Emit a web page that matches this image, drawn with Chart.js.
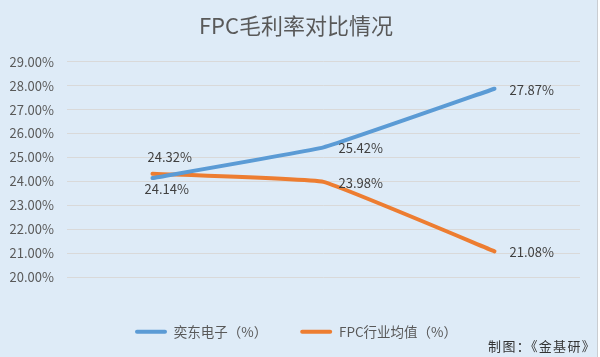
<!DOCTYPE html>
<html><head><meta charset="utf-8">
<script src="https://cdn.jsdelivr.net/npm/chart.js@4"></script>
<style>
html,body{margin:0;padding:0;background:#fff;}
#wrap{width:597px;height:357px;border-right:1px solid #c9cdd2;}
canvas{display:block;}
</style></head><body>
<div id="wrap"><canvas id="c" width="597" height="357"></canvas></div>
<script>
const categories = ['2018年', '2019年', '2020年'];
const seriesNames = ['奕东电子（%）', 'FPC行业均值（%）'];
const yidongValues = [24.14, 25.42, 27.87];
const industryValues = [24.32, 23.98, 21.08];
const yMin = 20, yMax = 29, yStep = 1;
const titleText = 'FPC毛利率对比情况';
const sourceText = '制图：《金基研》';

const FONT = "'Noto Sans CJK SC', 'Noto Sans', sans-serif";
const BG = '#deebf7';

// label placement per dataset/point (offsets from the point, text left-aligned)
const labelPlacement = [
  [{dx: -8, dy: 11}, {dx: 15, dy: 1}, {dx: 15, dy: 1}],
  [{dx: -5, dy: -17}, {dx: 15, dy: 1}, {dx: 15, dy: 1}]
];

const bgPlugin = {
  id: 'bg',
  beforeDraw(chart) {
    const ctx = chart.ctx;
    ctx.save();
    ctx.fillStyle = BG;
    ctx.fillRect(0, 0, chart.width, chart.height);
    ctx.restore();
  }
};

// nudge title and legend so they are centred like the reference
const centerShift = {
  id: 'centerShift',
  afterLayout(chart) {
    const s = 12;
    if (chart.titleBlock) { chart.titleBlock.left += s; }
    if (chart.legend) { chart.legend.left += s; }
  }
};

const labelPlugin = {
  id: 'valLabels',
  afterDatasetsDraw(chart) {
    const ctx = chart.ctx;
    ctx.save();
    ctx.font = '13px ' + FONT;
    ctx.fillStyle = '#404040';
    ctx.textAlign = 'left';
    ctx.textBaseline = 'middle';
    chart.data.datasets.forEach((ds, di) => {
      const meta = chart.getDatasetMeta(di);
      meta.data.forEach((pt, i) => {
        const p = labelPlacement[di][i];
        ctx.fillText(ds.data[i].toFixed(2) + '%', pt.x + p.dx, pt.y + p.dy);
      });
    });
    ctx.restore();
  }
};

const footerPlugin = {
  id: 'footer',
  afterDraw(chart) {
    const ctx = chart.ctx;
    ctx.save();
    ctx.font = '13px ' + FONT;
    try { ctx.letterSpacing = '1.3px'; } catch (e) {}
    ctx.fillStyle = '#333333';
    ctx.textAlign = 'right';
    ctx.textBaseline = 'middle';
    ctx.fillText(sourceText, 596, 346);
    ctx.restore();
  }
};

new Chart(document.getElementById('c'), {
  type: 'line',
  data: {
    labels: categories,
    datasets: [
      {label: seriesNames[0], data: yidongValues, borderColor: '#5b9bd5', backgroundColor: '#5b9bd5',
       borderWidth: 4, pointRadius: 0, tension: 0.08, borderCapStyle: 'round', borderJoinStyle: 'round'},
      {label: seriesNames[1], data: industryValues, borderColor: '#ed7d31', backgroundColor: '#ed7d31',
       borderWidth: 4, pointRadius: 0, tension: 0.08, borderCapStyle: 'round', borderJoinStyle: 'round'}
    ]
  },
  options: {
    responsive: false,
    animation: false,
    devicePixelRatio: 1,
    events: [],
    layout: {padding: {left: 0, right: 17, top: 0, bottom: 8.5}},
    plugins: {
      title: {
        display: true, text: titleText, color: '#595959',
        font: {family: FONT, size: 22, weight: 'normal'},
        padding: {top: 12.8, bottom: 22.5}
      },
      legend: {
        display: true, position: 'bottom',
        labels: {
          color: '#595959', font: {family: FONT, size: 13.5},
          boxWidth: 32, boxHeight: 4, padding: 33,
          generateLabels(chart) {
            return Chart.defaults.plugins.legend.labels.generateLabels(chart)
              .map(l => Object.assign(l, {lineWidth: 0, borderRadius: 2}));
          }
        }
      },
      tooltip: {enabled: false}
    },
    scales: {
      x: {
        offset: true,
        grid: {display: false, drawTicks: false},
        border: {display: false},
        ticks: {color: '#595959', font: {family: FONT, size: 13}, padding: 14, maxRotation: 0},
        afterFit(s) { s.height = 14.8; }
      },
      y: {
        min: yMin, max: yMax,
        grid: {color: '#d9d9d9', drawTicks: false, lineWidth: 1},
        border: {display: false},
        ticks: {stepSize: yStep, color: '#595959', font: {family: FONT, size: 13}, padding: 13,
                callback: v => v.toFixed(2) + '%'},
        afterFit(s) { s.width = 67; }
      }
    }
  },
  plugins: [bgPlugin, centerShift, labelPlugin, footerPlugin]
});
</script>
</body></html>
